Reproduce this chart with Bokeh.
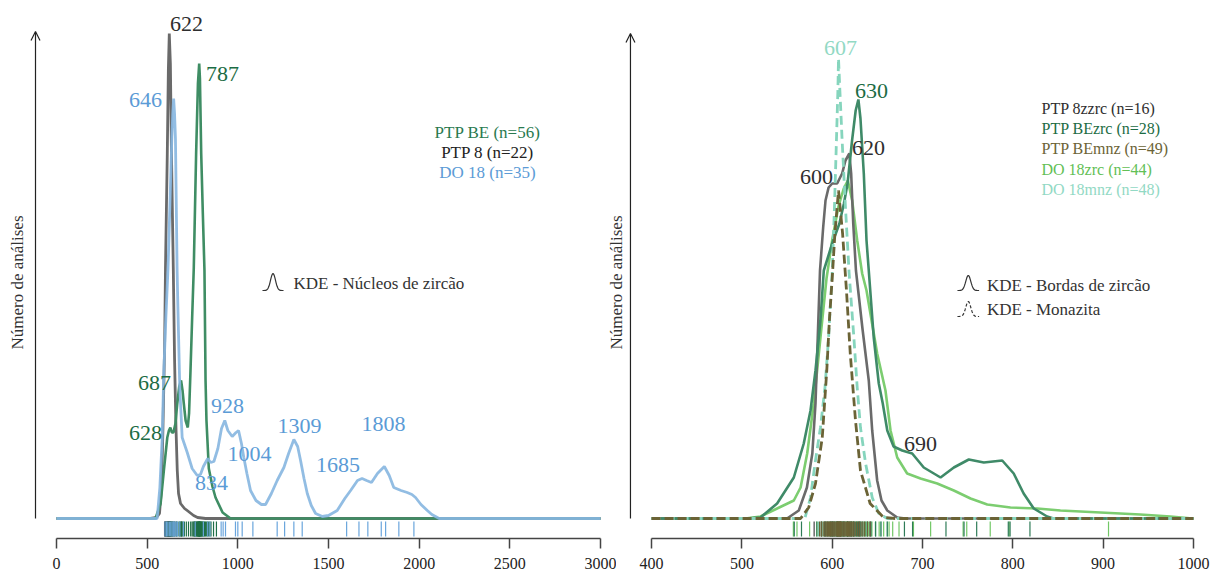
import numpy as np
from bokeh.plotting import figure
from bokeh.models import LinearAxis, FixedTicker, Range1d, Arrow, OpenHead
from bokeh.layouts import row
from bokeh.core.properties import value
from bokeh.embed import file_html
from bokeh.resources import INLINE

SERIF = value("Liberation Serif")

# ---------------- LEFT PANEL DATA (KDE - zircon cores) ----------------
left_ticks = [0, 500, 1000, 1500, 2000, 2500, 3000]

ptpbe_age = [0, 546, 574, 592, 611, 620, 628, 636, 645, 656, 666, 677, 687, 695, 702, 712, 724, 731,
             739, 748, 757, 770, 780, 787, 791, 798, 807, 816, 822, 827, 840, 860, 877, 916, 960, 3000]
ptpbe_kde = [0, 0, 15, 48, 81, 88, 91, 86, 86, 95, 115, 132, 138, 128, 115, 98, 91, 105,
             148, 200, 250, 365, 435, 455, 440, 365, 305, 248, 138, 98, 50, 32, 21, 6, 0, 0]

ptp8_age = [0, 518, 552, 568, 579, 587, 596, 601, 611, 617, 622, 628, 634, 644, 651, 659, 666, 673,
            684, 706, 728, 756, 778, 822, 3000]
ptp8_kde = [0, 0, 1, 5, 30, 90, 170, 250, 365, 450, 485, 455, 365, 251, 160, 90, 48, 25,
            15, 10, 7, 3, 1, 0, 0]

do18_age = [0, 555, 570, 583, 592, 603, 615, 625, 636, 641, 646, 651, 656, 665, 669, 680, 693, 721,
            748, 776, 794, 810, 834, 850, 868, 890, 910, 928, 945, 969, 990, 1004, 1020, 1033, 1050,
            1070, 1100, 1130, 1153, 1185, 1217, 1254, 1280, 1309, 1330, 1346, 1365, 1383, 1405, 1429,
            1466, 1500, 1548, 1590, 1622, 1660, 1685, 1710, 1737, 1770, 1808, 1835, 1860, 1900, 1934,
            1960, 1980, 2010, 2045, 2070, 2090, 2110, 3000]
do18_kde = [0, 0, 31, 81, 148, 200, 250, 310, 380, 405, 420, 405, 380, 250, 215, 130, 81, 66,
            50, 43, 44, 52, 60, 56, 57, 70, 90, 98, 88, 82, 86, 88, 75, 61, 45,
            28, 18, 14, 14, 25, 38, 51, 65, 79, 72, 58, 40, 25, 13, 5,
            2, 3, 8, 20, 28, 38, 40, 38, 36, 45, 52, 43, 31, 28, 26,
            24, 21, 14, 8, 4, 2, 0, 0]

ptp8_rug = [596, 600, 604, 608, 611, 614, 616, 618, 620, 621, 622, 623, 624, 626, 628, 631, 635,
            640, 648, 660, 690, 760]
ptpbe_rug = [603, 612, 620, 625, 628, 631, 636, 642, 650, 660, 670, 678, 683, 687, 691, 697, 705,
             716, 728, 740, 748, 754, 759, 763, 767, 770, 773, 776, 778, 780, 782, 784, 785, 786,
             787, 788, 789, 790, 791, 793, 795, 797, 799, 802, 805, 808, 812, 816, 821, 826, 832,
             838, 845, 852, 866, 882]
do18_rug = [598, 606, 614, 622, 630, 637, 643, 648, 653, 660, 668, 680, 700, 765, 810, 834, 846,
            908, 919, 932, 987, 1000, 1024, 1083, 1217, 1258, 1309, 1355, 1600, 1668, 1717, 1791,
            1815, 1888, 1971]

left_legend = ["PTP BE (n=56)", "PTP 8 (n=22)", "DO 18 (n=35)"]
left_peaks = ["622", "787", "646", "687", "628", "928", "1004", "834", "1309", "1685", "1808"]

# ---------------- RIGHT PANEL DATA (KDE - zircon rims / monazite) ----------------
right_ticks = [400, 500, 600, 700, 800, 900, 1000]

ptp8z_age = [400, 550, 563, 572, 578, 581.5, 584, 586.5, 590, 592.6, 596, 600, 605.5, 611, 614.7,
             619, 621, 623.3, 626.3, 633.5, 640.5, 644.3, 649.8, 654.6, 661, 672, 681, 1000]
ptp8z_kde = [0, 0, 8, 31, 65, 115, 181, 248, 291, 318, 331, 335, 335, 345, 358,
             365, 345, 295, 248, 190, 138, 88, 38, 18, 8, 1, 0, 0]

bezrc_age = [400, 504, 520.6, 539, 557.5, 568.5, 576, 581.5, 587, 590.7, 600, 608, 613, 617, 622,
             626, 629, 631.3, 635, 638, 640.5, 646, 651.6, 656, 661, 668, 677.5, 688.6, 701.4, 720,
             734.7, 751.3, 767.9, 788.3, 801, 812, 823.2, 838, 845, 1000]
bezrc_kde = [0, 0, 1, 15, 41, 75, 108, 148, 198, 248, 275, 295, 315, 335, 378,
             408, 419, 400, 345, 278, 248, 181, 135, 115, 88, 72, 68, 65, 51, 41,
             51, 59, 56, 58, 45, 25, 10, 2, 0, 0]

bemnz_age = [400, 565, 574, 581.5, 589, 594, 597, 600, 603, 607, 611.5, 615.8, 620, 625.8, 631.3,
             642, 657, 670, 1000]
bemnz_kde = [0, 0, 11, 35, 81, 148, 200, 240, 285, 328, 285, 228, 165, 98, 48,
             15, 1, 0, 0]

do18z_age = [400, 504, 520.6, 539, 557.5, 565, 572.3, 579.6, 587, 593.7, 600.3, 606.9, 612.8, 617.3,
             622.1, 627.7, 633.2, 638, 649.8, 659, 664.6, 672, 683, 697.8, 716.3, 734.7, 753.2,
             771.7, 797.4, 827, 852.8, 897, 941, 974.5, 999, 1000]
do18z_kde = [0, 0, 2, 10, 18, 31, 65, 115, 181, 240, 280, 312, 330, 338,
             318, 278, 245, 228, 165, 128, 88, 61, 45, 40, 35, 28, 20,
             14, 11, 10, 8, 6, 4, 2, 0, 0]

do18m_age = [400, 565, 570, 576, 581, 587, 592, 596, 600, 602.5, 604.7, 606.3, 607, 608.5, 611,
             614.7, 618.7, 624, 627.7, 631.3, 637, 644.3, 651.6, 661, 1000]
do18m_kde = [0, 0, 1, 21, 55, 91, 131, 181, 246, 311, 378, 428, 460, 428, 378,
             311, 246, 181, 131, 91, 55, 21, 5, 0, 0]

ptp8z_rug = [580, 588, 592, 595, 598, 600, 602, 605, 609, 613, 617, 619, 621, 624, 630, 642]
bezrc_rug = [558, 566, 583, 592, 600, 606, 612, 617, 621, 624, 627, 629, 631, 633, 636, 639, 643,
             648, 654, 661, 680, 689, 726, 746, 760, 795, 797, 819]
bemnz_rug = [586, 588, 590, 592, 593, 594, 595, 596, 597, 598, 599, 600, 601, 602, 603, 604, 605,
             606, 606, 607, 607, 608, 608, 609, 609, 610, 610, 611, 612, 613, 614, 615, 616, 617,
             618, 619, 620, 621, 622, 623, 624, 626, 628, 630, 632, 634, 636, 639, 642]
do18z_rug = [557, 561, 575, 583, 588, 591, 594, 597, 599, 601, 603, 605, 607, 609, 611, 613, 614,
             616, 617, 618, 620, 621, 623, 625, 627, 629, 631, 634, 637, 640, 644, 648, 652, 657,
             663, 667, 674, 690, 709, 745, 749, 775, 796, 906]
do18m_rug = [585, 589, 592, 594, 596, 598, 599, 600, 601, 602, 603, 604, 604, 605, 605, 606, 606,
             607, 607, 607, 608, 608, 608, 609, 609, 610, 610, 611, 611, 612, 613, 614, 615, 616,
             617, 618, 620, 622, 624, 626, 628, 631, 634, 638, 642, 648, 654, 661]

right_legend = ["PTP 8zzrc (n=16)", "PTP BEzrc (n=28)", "PTP BEmnz (n=49)", "DO 18zrc (n=44)",
                "DO 18mnz (n=48)"]
right_peaks = ["607", "630", "620", "600", "690"]

YLABEL = "Número de análises"

# ---------------- STYLE ----------------
C_GREEN = "#3f8d64"; C_GREEN_T = "#1c6c44"
C_GREY = "#6a6a6a"; C_GREY_T = "#2e2e2e"
C_BLUE = "#86b6e0"; C_BLUE_T = "#5b9bd6"
C_DKG = "#3f8a68"; C_OLIVE = "#6b6336"; C_LTG = "#7ccd70"; C_MINT = "#86d5bd"
C_LTG_T = "#62c055"; C_MINT_T = "#92d9c4"

H = 579
Y0, Y1 = -20, 518          # frame: baseline of curves at y=0
RUG0, RUG1 = -3, -18


def make_panel(width, xr, ticks):
    p = figure(width=width, height=H, output_backend="svg", toolbar_location=None,
               x_range=Range1d(*xr), y_range=Range1d(Y0, Y1),
               x_axis_location=None, y_axis_location=None,
               min_border_left=0, min_border_right=0, min_border_top=0, min_border_bottom=H - 538)
    p.outline_line_color = None
    p.background_fill_color = None
    p.border_fill_color = None
    p.xgrid.visible = False
    p.ygrid.visible = False
    ax = LinearAxis(ticker=FixedTicker(ticks=ticks), bounds=(ticks[0], ticks[-1]))
    ax.axis_line_color = "#444444"
    ax.axis_line_width = 1.5
    ax.major_tick_line_color = "#444444"
    ax.major_tick_line_width = 1.5
    ax.major_tick_out = 10
    ax.major_tick_in = 0
    ax.minor_tick_line_color = None
    ax.major_label_text_font = "Liberation Serif"
    ax.major_label_text_font_size = "16px"
    ax.major_label_text_color = "#222222"
    ax.major_label_standoff = 9
    p.add_layout(ax, "below")
    return p


def rug(p, ages, color):
    p.segment(x0=ages, x1=ages, y0=RUG0, y1=RUG1, line_color=color, line_width=1.2)


def label(p, x, y, txt, color, size, align="center"):
    p.text(x=[x], y=[y], text=[txt], text_font=SERIF, text_font_size=size, text_color=color,
           text_align=align, text_baseline="middle")


def bell(p, cx, cy0, hw, ht, dash="solid"):
    t = np.linspace(-1, 1, 41)
    p.line(cx + t * hw, cy0 + ht * np.exp(-(t / 0.33) ** 2), line_color="#333333",
           line_width=1.2, line_dash=dash)


def yarrow(p, x, ylab_x, top):
    p.add_layout(Arrow(end=OpenHead(size=9, line_color="#222222", line_width=1.2),
                       x_start=x, y_start=0, x_end=x, y_end=top,
                       line_color="#222222", line_width=1.2))
    p.text(x=[ylab_x], y=[236], text=[YLABEL], text_font=SERIF, text_font_size="17px",
           text_color="#333333", angle=np.pi / 2, text_align="center", text_baseline="middle")


# ---------------- LEFT FIGURE ----------------
pl = make_panel(616, (-308.83, 3088.3), left_ticks)
pl.line(ptp8_age, ptp8_kde, line_color=C_GREY, line_width=2.8)
pl.line(ptpbe_age, ptpbe_kde, line_color=C_GREEN, line_width=2.6)
pl.line(do18_age, do18_kde, line_color=C_BLUE, line_width=2.8, line_alpha=0.9)
rug(pl, ptp8_rug, "#333333")
rug(pl, ptpbe_rug, "#1f6f46")
rug(pl, do18_rug, "#6aa5dc")
yarrow(pl, -115.8, -215, 487)

lpos = [(717, 495), (915, 445), (491, 419), (540, 136), (491, 86), (943, 113), (1064, 65),
        (855, 36), (1340, 93), (1552, 54), (1803, 95)]
lcol = [C_GREY_T, C_GREEN_T, C_BLUE_T, C_GREEN_T, C_GREEN_T, C_BLUE_T, C_BLUE_T, C_BLUE_T,
        C_BLUE_T, C_BLUE_T, C_BLUE_T]
for (x, y), t, c in zip(lpos, left_peaks, lcol):
    label(pl, x, y, t, c, "22px")
for i, (t, c) in enumerate(zip(left_legend, ["#2a7a4f", "#222222", C_BLUE_T])):
    label(pl, 2377, 386.5 - 20 * i, t, c, "17px")
bell(pl, 1194, 228, 58, 17)
label(pl, 1307, 235, "KDE - Núcleos de zircão", "#333333", "17px", align="left")

# ---------------- RIGHT FIGURE ----------------
pr = make_panel(606, (350.06, 1021.15), right_ticks)
pr.margin = (0, 0, 0, -10)
pr.line(do18z_age, do18z_kde, line_color=C_LTG, line_width=2.6)
pr.line(ptp8z_age, ptp8z_kde, line_color=C_GREY, line_width=2.6)
pr.line(bezrc_age, bezrc_kde, line_color=C_DKG, line_width=2.6)
pr.line(do18m_age, do18m_kde, line_color=C_MINT, line_width=2.8, line_dash="9 5")
pr.line(bemnz_age, bemnz_kde, line_color=C_OLIVE, line_width=2.8, line_dash="9 4")
rug(pr, do18z_rug, "#72c766")
rug(pr, do18m_rug, "#7ccfb6")
rug(pr, bezrc_rug, "#2f7c58")
rug(pr, ptp8z_rug, "#444444")
rug(pr, bemnz_rug, "#6b6336")
yarrow(pr, 376.6, 361.1, 485)

rpos = [(609.2, 471), (643.5, 428), (640.2, 371), (582.6, 342), (697.8, 75)]
rcol = [C_MINT_T, C_GREEN_T, C_GREY_T, C_GREY_T, C_GREY_T]
for (x, y), t, c in zip(rpos, right_peaks, rcol):
    label(pr, x, y, t, c, "22px")
for i, (t, c) in enumerate(zip(right_legend, ["#2e2e2e", C_GREEN_T, C_OLIVE, C_LTG_T, C_MINT_T])):
    label(pr, 831.8, 410 - 20.2 * i, t, c, "16px", align="left")
bell(pr, 750.7, 228, 12, 15)
bell(pr, 750.7, 202, 12, 15, dash="3 2")
label(pr, 771.3, 233, "KDE - Bordas de zircão", "#333333", "17px", align="left")
label(pr, 771.3, 208.7, "KDE - Monazita", "#333333", "17px", align="left")

layout = row(pl, pr)
open("out.html", "w").write(file_html(layout, INLINE))
